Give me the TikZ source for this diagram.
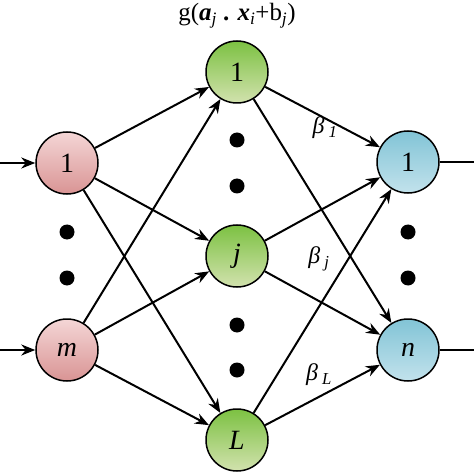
\documentclass[tikz,border=0pt]{standalone}
\usepackage{fontspec}
\setmainfont{Liberation Serif}
\usetikzlibrary{arrows.meta}
\definecolor{pinkT}{HTML}{F4D6D6}
\definecolor{pinkB}{HTML}{D99494}
\definecolor{greenT}{HTML}{7CC142}
\definecolor{greenB}{HTML}{D2E2AE}
\definecolor{blueT}{HTML}{82C4D6}
\definecolor{blueB}{HTML}{C2E2EC}
\tikzset{
  neuron/.style={circle, draw=black, line width=1.5bp, minimum size=62bp, inner sep=0pt, font=\fontsize{28}{30}\selectfont},
  inp/.style={neuron, top color=pinkT, bottom color=pinkB},
  hid/.style={neuron, top color=greenT, bottom color=greenB},
  outp/.style={neuron, top color=blueT, bottom color=blueB},
  conn/.style={line width=2bp, -{Stealth[length=14bp,width=11bp]}},
  plain/.style={line width=2bp},
  dotmark/.style={circle, fill=black, minimum size=15bp, inner sep=0pt},
  blabel/.style={font=\fontsize{24}{26}\selectfont}
}
\begin{document}
\begin{tikzpicture}[x=1bp,y=-1bp]
\useasboundingbox (0,0) rectangle (474,474);
% nodes
\node[inp] (i1) at (67,163) {1};
\node[inp] (im) at (67,350) {\textit{m}};
\node[hid] (h1) at (237,72) {1};
\node[hid] (hj) at (237,256) {\textit{j}};
\node[hid] (hL) at (237,440) {\textit{L}};
\node[outp] (o1) at (408,162) {1};
\node[outp] (on) at (408,350) {\textit{n}};
% free ends
\coordinate (li1) at (0,163);
\coordinate (lim) at (0,350);
\coordinate (ro1) at (474,162);
\coordinate (ron) at (474,350);
% dots
\node[dotmark] (d1) at (67,232) {};
\node[dotmark] (d2) at (67,278) {};
\node[dotmark] (d3) at (237,140) {};
\node[dotmark] (d4) at (237,186) {};
\node[dotmark] (d5) at (237,325) {};
\node[dotmark] (d6) at (237,370) {};
\node[dotmark] (d7) at (408,232) {};
\node[dotmark] (d8) at (408,278) {};
% input/output lines
\draw[conn] (li1) -- (i1);
\draw[conn] (lim) -- (im);
\draw[plain] (o1) -- (ro1);
\draw[plain] (on) -- (ron);
% input to hidden
\foreach \a in {i1,im}{
  \foreach \b in {h1,hj,hL}{
    \draw[conn] (\a) -- (\b);
  }
}
% hidden to output
\foreach \a in {h1,hj,hL}{
  \foreach \b in {o1,on}{
    \draw[conn] (\a) -- (\b);
  }
}
% labels
\node[font=\fontsize{25}{27}\selectfont] (title) at (237,16) {g(\textbf{\textit{a}}\textsubscript{\textit{j}} \textbf{.} \textbf{\textit{x}}\textsubscript{\textit{i}}+b\textsubscript{\textit{j}})};
\node[blabel] (b1) at (325,128) {\textit{β}\,\textsubscript{\textit{1}}};
\node[blabel] (bj) at (319,259) {\textit{β}\,\textsubscript{\textit{j}}};
\node[blabel] (bL) at (319,375) {\textit{β}\,\textsubscript{\textit{L}}};
\end{tikzpicture}
\end{document}
